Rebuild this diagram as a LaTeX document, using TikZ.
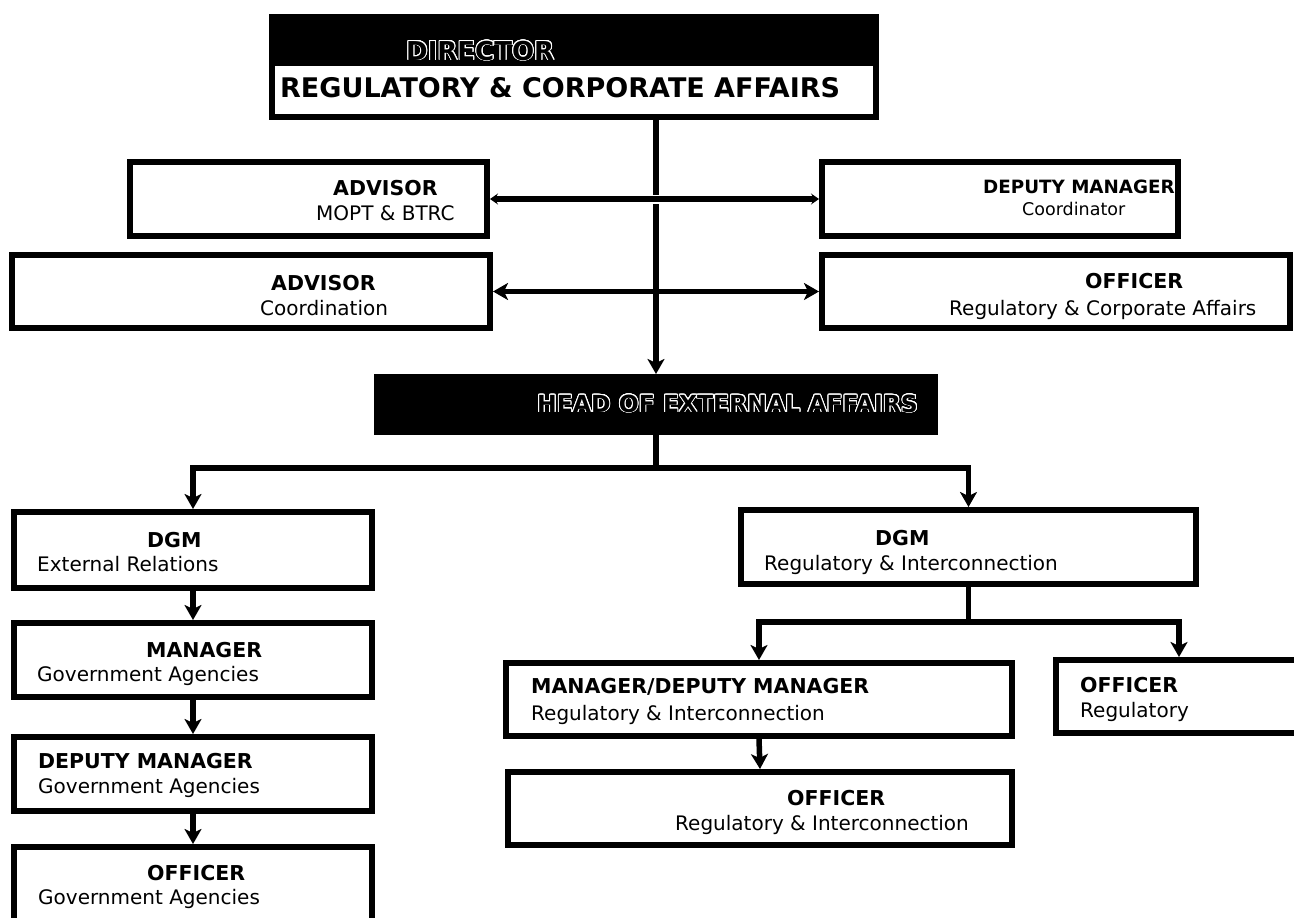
\documentclass[tikz,border=0pt]{standalone}
\usepackage{fontspec}
\setmainfont{DejaVu Sans}
\usepackage[copies]{contour}
\contourlength{0.9pt}
\contournumber{24}
\usetikzlibrary{arrows.meta,calc,fit}

\newcommand\hollowtext[1]{\contour{white}{#1}}

\tikzset{
  orgbox/.style={draw=black, line width=6pt, inner sep=0pt, fill=white},
  lbl/.style={anchor=base west, inner sep=0pt, font=\fontsize{20}{24}\selectfont},
  ttl/.style={anchor=base west, inner sep=0pt, font=\fontsize{20.5}{24}\selectfont\bfseries},
  smalllbl/.style={anchor=base west, inner sep=0pt, font=\fontsize{17.5}{21}\selectfont},
  smallttl/.style={anchor=base west, inner sep=0pt, font=\fontsize{18.3}{22}\selectfont\bfseries},
  link/.style={draw=black, line width=5.5pt},
  tip/.style={-{Stealth[length=15pt,width=17pt,inset=4pt]}},
  bothtips/.style={{Stealth[length=15pt,width=17pt,inset=4pt]}-{Stealth[length=15pt,width=17pt,inset=4pt]}},
  faintips/.style={{Stealth[length=8pt,width=11pt,inset=3pt]}-{Stealth[length=8pt,width=11pt,inset=3pt]}},
}

\begin{document}
\begin{tikzpicture}[x=1pt,y=-1pt]
\useasboundingbox (0,0) rectangle (1294,918);
\clip (0,0) rectangle (1294,918);

% ---- boxes ----
\node[orgbox, fit={(272,17) (876,117)}] (dir) {};
\fill[black] (272,17) rectangle (876,66);
\node[orgbox, fit={(130,162) (487,236)}] (advA) {};
\node[orgbox, fit={(822,162) (1178,236)}] (depC) {};
\node[orgbox, fit={(12,255) (490,328)}] (advB) {};
\node[orgbox, fit={(822,255) (1290,328)}] (offRC) {};
\node[orgbox, fill=black, fit={(377,377) (935,432)}] (head) {};

\node[orgbox, fit={(14,512) (372,588)}] (dgmL) {};
\node[orgbox, fit={(14,623) (372,697)}] (mgrL) {};
\node[orgbox, fit={(14,737) (372,811)}] (depL) {};
\node[orgbox, fit={(14,847) (372,935)}] (offL) {};

\node[orgbox, fit={(741,510) (1196,584)}] (dgmR) {};
\node[orgbox, fit={(506,663) (1012,736)}] (mdR) {};
\node[orgbox, fit={(508,772) (1012,845)}] (offRI) {};
\node[orgbox, fit={(1056,660) (1302,733)}] (offR) {};

% ---- texts ----
\node[anchor=base west, inner sep=0pt, font=\fontsize{26}{30}\selectfont\bfseries] (dirT) at (406,60) {\hollowtext{DIRECTOR}};
\node[anchor=base west, inner sep=0pt, font=\fontsize{27}{31}\selectfont\bfseries] (dirS) at (280,97) {REGULATORY \& CORPORATE AFFAIRS};

\node[ttl] (advAT) at (333,195) {ADVISOR};
\node[lbl] (advAS) at (316,220) {MOPT \& BTRC};

\node[smallttl] (depCT) at (983,193) {DEPUTY MANAGER};
\node[smalllbl] (depCS) at (1022,215) {Coordinator};

\node[ttl] (advBT) at (271,290) {ADVISOR};
\node[lbl] (advBS) at (260,315) {Coordination};

\node[ttl] (offRCT) at (1085,288) {OFFICER};
\node[lbl] (offRCS) at (949,315) {Regulatory \& Corporate Affairs};

\node[anchor=base west, inner sep=0pt, font=\fontsize{23.5}{28}\selectfont\bfseries] (headT) at (537,412) {\hollowtext{HEAD OF EXTERNAL AFFAIRS}};

\node[ttl] (dgmLT) at (147,547) {DGM};
\node[lbl] (dgmLS) at (37,571) {External Relations};
\node[ttl] (mgrLT) at (146,657) {MANAGER};
\node[lbl] (mgrLS) at (37,681) {Government Agencies};
\node[ttl] (depLT) at (38,768) {DEPUTY MANAGER};
\node[lbl] (depLS) at (38,793) {Government Agencies};
\node[ttl] (offLT) at (147,880) {OFFICER};
\node[lbl] (offLS) at (38,904) {Government Agencies};

\node[ttl] (dgmRT) at (875,545) {DGM};
\node[lbl] (dgmRS) at (764,570) {Regulatory \& Interconnection};
\node[ttl] (mdRT) at (531,693) {MANAGER/DEPUTY MANAGER};
\node[lbl] (mdRS) at (531,720) {Regulatory \& Interconnection};
\node[ttl] (offRIT) at (787,805) {OFFICER};
\node[lbl] (offRIS) at (675,830) {Regulatory \& Interconnection};
\node[ttl] (offRT) at (1080,692) {OFFICER};
\node[lbl] (offRS) at (1080,717) {Regulatory};

% ---- connectors ----
\draw[link, tip] (dir.south -| head.north) -- (head.north);
\draw[white, line width=9pt] (advA.east) -- (depC.west);
\draw[link, faintips] (advA.east) -- (depC.west);
\draw[link, bothtips] (advB.east) -- (offRC.west);

\coordinate (bus1) at ($(head.south)+(0,33)$);
\draw[link] (head.south) -- (bus1);
\draw[link, tip] (bus1) -| (dgmL.north);
\draw[link, tip] (bus1) -| (dgmR.north);

\draw[link, tip] (dgmL.south) -- (mgrL.north);
\draw[link, tip] (mgrL.south) -- (depL.north);
\draw[link, tip] (depL.south) -- (offL.north);

\coordinate (bus2) at ($(dgmR.south)+(0,35)$);
\draw[link] (dgmR.south) -- (bus2);
\draw[link, tip] (bus2) -| (mdR.north);
\draw[link, tip] (bus2) -| (offR.north);
\draw[link, tip] (mdR.south) -- (offRI.north);
\end{tikzpicture}
\end{document}
